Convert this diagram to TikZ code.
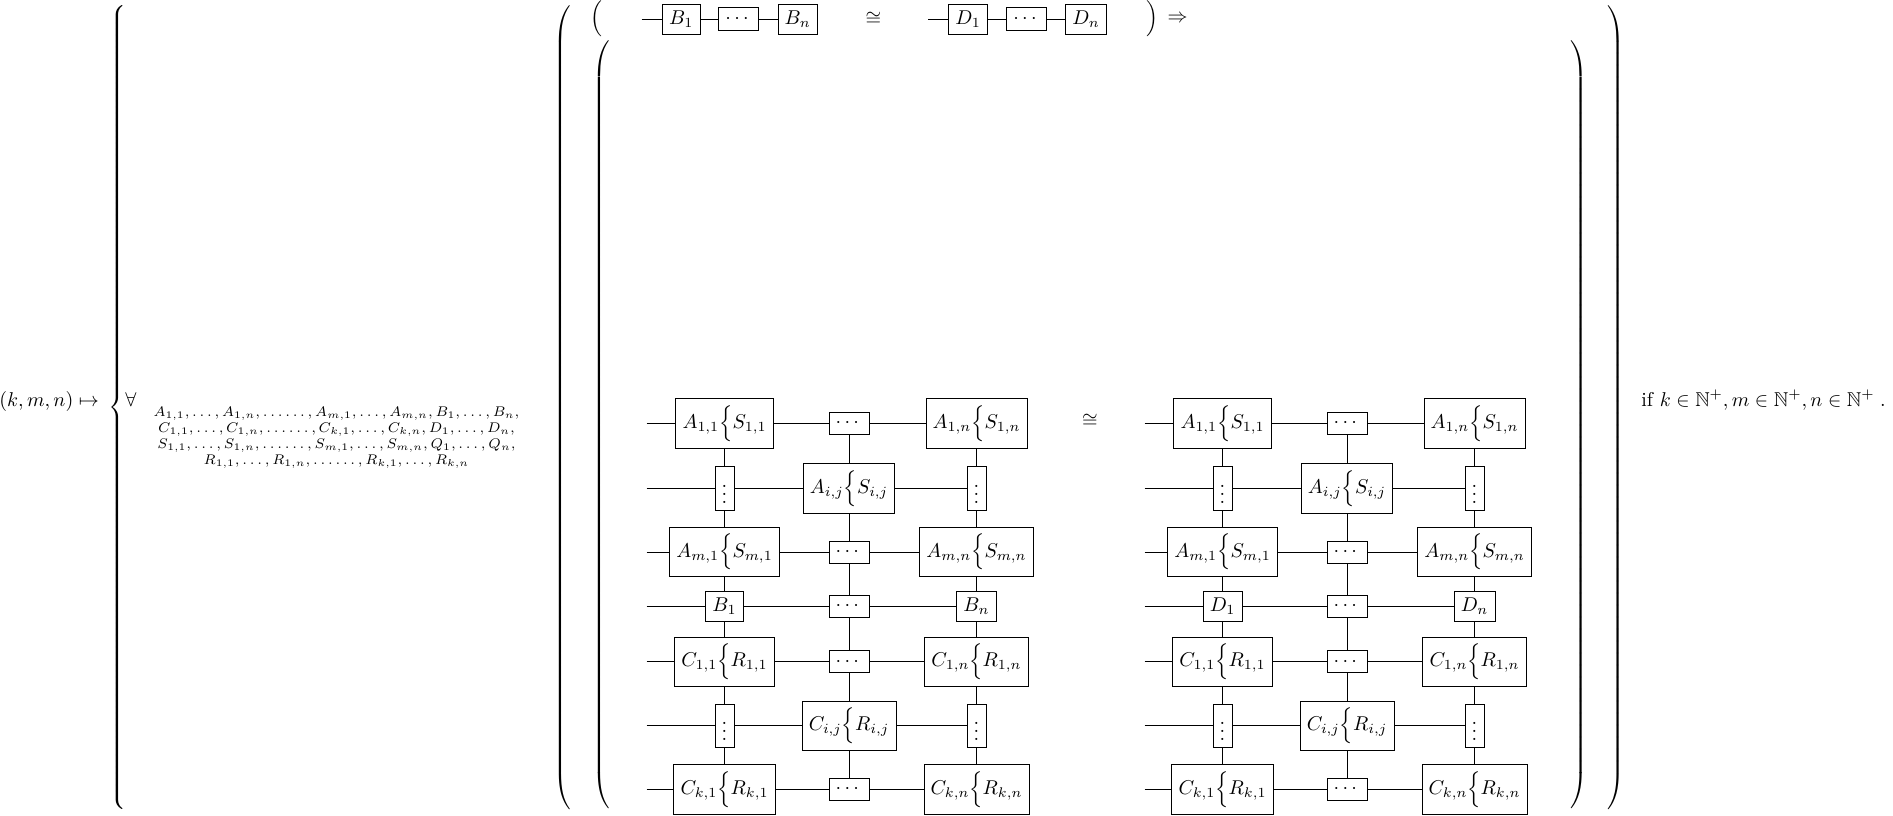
\documentclass[tikz,border=0pt]{standalone}
\usepackage{amsmath,amssymb}
\tikzset{
  bx/.style={draw, line width=0.4pt},
  lbl/.style={inner sep=0pt},
  qlist/.style={inner sep=0pt, anchor=base, font=\scriptsize},
  conn/.style={line width=0.4pt},
}
\newcommand\AS[3]{$#1_{#2}\Bigl\{#3_{#2}$}
\newcommand\gridpanel[3]{%
  % #1 = x offset, #2 = name prefix, #3 = letter of row 4
  \node[bx] (#2-11) at ({724.5+#1},423.3) {\AS{A}{1,1}{S}};
  \node[bx] (#2-12) at ({849+#1},423.3) {$\cdots$};
  \node[bx] (#2-13) at ({976.5+#1},423.3) {\AS{A}{1,n}{S}};
  \node[bx] (#2-21) at ({724.5+#1},488.3) {$\vdots$};
  \node[bx] (#2-22) at ({849+#1},488.3) {\AS{A}{i,j}{S}};
  \node[bx] (#2-23) at ({976.5+#1},488.3) {$\vdots$};
  \node[bx] (#2-31) at ({724.5+#1},552) {\AS{A}{m,1}{S}};
  \node[bx] (#2-32) at ({849+#1},552) {$\cdots$};
  \node[bx] (#2-33) at ({976.5+#1},552) {\AS{A}{m,n}{S}};
  \node[bx] (#2-41) at ({724.5+#1},606.5) {$#3_1$};
  \node[bx] (#2-42) at ({849+#1},606.5) {$\cdots$};
  \node[bx] (#2-43) at ({976.5+#1},606.5) {$#3_n$};
  \node[bx] (#2-51) at ({724.5+#1},661.7) {\AS{C}{1,1}{R}};
  \node[bx] (#2-52) at ({849+#1},661.7) {$\cdots$};
  \node[bx] (#2-53) at ({976.5+#1},661.7) {\AS{C}{1,n}{R}};
  \node[bx] (#2-61) at ({724.5+#1},725.7) {$\vdots$};
  \node[bx] (#2-62) at ({849+#1},725.7) {\AS{C}{i,j}{R}};
  \node[bx] (#2-63) at ({976.5+#1},725.7) {$\vdots$};
  \node[bx] (#2-71) at ({724.5+#1},789.3) {\AS{C}{k,1}{R}};
  \node[bx] (#2-72) at ({849+#1},789.3) {$\cdots$};
  \node[bx] (#2-73) at ({976.5+#1},789.3) {\AS{C}{k,n}{R}};
  \coordinate (#2-s1) at ({646.7+#1},423.3);
  \coordinate (#2-s2) at ({646.7+#1},488.3);
  \coordinate (#2-s3) at ({646.7+#1},552);
  \coordinate (#2-s4) at ({646.7+#1},606.5);
  \coordinate (#2-s5) at ({646.7+#1},661.7);
  \coordinate (#2-s6) at ({646.7+#1},725.7);
  \coordinate (#2-s7) at ({646.7+#1},789.3);
  \foreach \i in {1,...,7}{
    \draw[conn] (#2-s\i) -- (#2-\i1) -- (#2-\i2) -- (#2-\i3);
  }
  \foreach \j in {1,2,3}{
    \draw[conn] (#2-1\j) -- (#2-2\j) -- (#2-3\j) -- (#2-4\j) -- (#2-5\j) -- (#2-6\j) -- (#2-7\j);
  }
}
\begin{document}
\begin{tikzpicture}[x=0.5pt,y=-0.5pt]
\useasboundingbox (0,0) rectangle (1893,815);

% left-hand side
\node[lbl, anchor=base west] (lhs) at (-1,406) {$(k,m,n)\mapsto$};

% big delimiters
\node[lbl, anchor=west] (brace) at (108,407.5) {$\left\{\vcenter{\hbox{\vrule height 405pt width 0pt}}\right.$};
\node[lbl, anchor=west] (opo) at (553,407.5) {$\left(\vcenter{\hbox{\vrule height 405pt width 0pt}}\right.$};
\node[lbl, anchor=west] (opi) at (592,425) {$\left(\vcenter{\hbox{\vrule height 387pt width 0pt}}\right.$};
\node[lbl, anchor=east] (cpi) at (1588,425) {$\left.\vcenter{\hbox{\vrule height 387pt width 0pt}}\right)$};
\node[lbl, anchor=east] (cpo) at (1625,407.5) {$\left.\vcenter{\hbox{\vrule height 405pt width 0pt}}\right)$};

% quantifier
\node[lbl, anchor=base west] (all) at (125,406) {$\forall$};
\node[qlist] (q1) at (336.5,416) {$A_{1,1},\dots,A_{1,n},\dots\dots,A_{m,1},\dots,A_{m,n},B_1,\dots,B_n,$};
\node[qlist] (q2) at (336.5,432) {$C_{1,1},\dots,C_{1,n},\dots\dots,C_{k,1},\dots,C_{k,n},D_1,\dots,D_n,$};
\node[qlist] (q3) at (336.5,448) {$S_{1,1},\dots,S_{1,n},\dots\dots,S_{m,1},\dots,S_{m,n},Q_1,\dots,Q_n,$};
\node[qlist] (q4) at (336.5,464) {$R_{1,1},\dots,R_{1,n},\dots\dots,R_{k,1},\dots,R_{k,n}$};

% top row
\node[lbl] (tpo) at (596,18.3) {$\Bigl($};
\coordinate (tsB) at (641.7,19);
\node[bx] (tB1) at (681.2,19) {$B_1$};
\node[bx] (tBd) at (738.8,19) {$\cdots$};
\node[bx] (tBn) at (797.7,19) {$B_n$};
\node[lbl] (tcong) at (873.3,18.5) {$\cong$};
\coordinate (tsD) at (928.3,19);
\node[bx] (tD1) at (968,19) {$D_1$};
\node[bx] (tDd) at (1026.7,19) {$\cdots$};
\node[bx] (tDn) at (1086,19) {$D_n$};
\node[lbl] (tpc) at (1152.5,18.3) {$\Bigr)$};
\node[lbl] (timp) at (1177.5,19) {$\Rightarrow$};
\draw[conn] (tsB) -- (tB1) -- (tBd) -- (tBn);
\draw[conn] (tsD) -- (tD1) -- (tDd) -- (tDn);

% grids
\gridpanel{0}{L}{B}
\gridpanel{498}{R}{D}
\node[lbl] (gcong) at (1090,421) {$\cong$};

% condition
\node[lbl, anchor=base west] (cond) at (1641,406) {$\text{if }k\in\mathbb{N}^+,m\in\mathbb{N}^+,n\in\mathbb{N}^+\;.$};
\end{tikzpicture}
\end{document}
